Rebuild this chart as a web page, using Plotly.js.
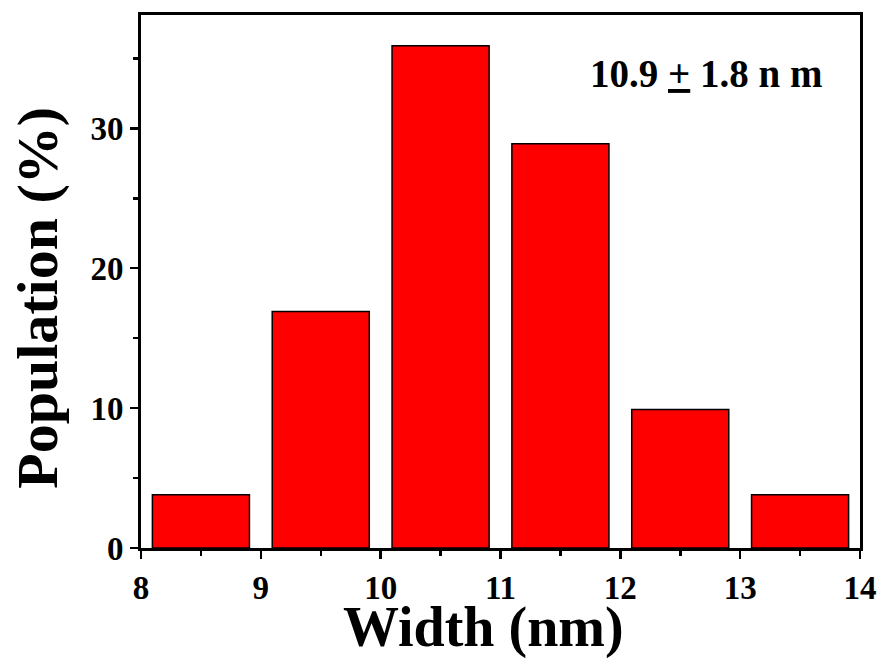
<!DOCTYPE html>
<html>
<head>
<meta charset="utf-8">
<script src="https://cdn.plot.ly/plotly-3.0.1.min.js"></script>
<style>html,body{margin:0;padding:0;background:#fff;}#chart{width:882px;height:664px;}</style>
</head>
<body>
<div id="chart"></div>
<script>
const binCenters = [8.5, 9.5, 10.5, 11.5, 12.5, 13.5];
const population = [3.8, 16.9, 35.9, 28.9, 9.9, 3.8];
const xTicks = [8, 9, 10, 11, 12, 13, 14];
const yTicks = [0, 10, 20, 30];
const xTitle = 'Width (nm)';
const yTitle = 'Population (%)';
const annotationText = '10.9 <u>+</u> 1.8 n m';

const font = 'Liberation Serif, Times New Roman, serif';

const trace = {
  type: 'bar',
  x: binCenters,
  y: population,
  width: 0.81,
  marker: {color: '#ff0000', line: {color: '#000', width: 1.5}},
  hoverinfo: 'skip'
};

const layout = {
  width: 882, height: 664,
  margin: {l: 141, r: 22, t: 15, b: 116},
  paper_bgcolor: '#fff', plot_bgcolor: '#fff',
  showlegend: false,
  font: {family: font, color: '#000'},
  xaxis: {
    range: [8, 14],
    tickvals: xTicks,
    ticktext: xTicks.map(String),
    ticks: 'outside', ticklen: 8, tickwidth: 2.5, tickcolor: '#000',
    minor: {dtick: 0.5, tick0: 8, ticks: 'outside', ticklen: 5, tickwidth: 2.5, tickcolor: '#000'},
    showline: true, linewidth: 3, linecolor: '#000', mirror: true,
    showgrid: false, zeroline: false,
    tickfont: {family: font, size: 33, color: '#000', weight: 'bold'}
  },
  yaxis: {
    range: [0, 38.1],
    tickvals: yTicks,
    ticktext: yTicks.map(String),
    ticks: 'outside', ticklen: 8, tickwidth: 2.5, tickcolor: '#000',
    minor: {dtick: 5, tick0: 0, ticks: 'outside', ticklen: 5, tickwidth: 2.5, tickcolor: '#000'},
    showline: true, linewidth: 3, linecolor: '#000', mirror: true,
    showgrid: false, zeroline: false,
    tickfont: {family: font, size: 33, color: '#000', weight: 'bold'}
  },
  annotations: [{
    xref: 'paper', yref: 'paper',
    x: 0.95, y: 0.89, xanchor: 'right', yanchor: 'middle',
    text: '<b>' + annotationText + '</b>',
    showarrow: false,
    font: {family: font, size: 39, color: '#000'}
  }, {
    xref: 'paper', yref: 'paper',
    x: 0.477, y: -0.149, xanchor: 'center', yanchor: 'middle',
    text: '<b>' + xTitle + '</b>',
    showarrow: false,
    font: {family: font, size: 56, color: '#000'}
  }, {
    xref: 'paper', yref: 'paper',
    x: -0.145, y: 0.469, xanchor: 'center', yanchor: 'middle',
    textangle: -90,
    text: '<b>' + yTitle + '</b>',
    showarrow: false,
    font: {family: font, size: 58, color: '#000'}
  }]
};

Plotly.newPlot('chart', [trace], layout, {displayModeBar: false, staticPlot: true});
</script>
</body>
</html>
